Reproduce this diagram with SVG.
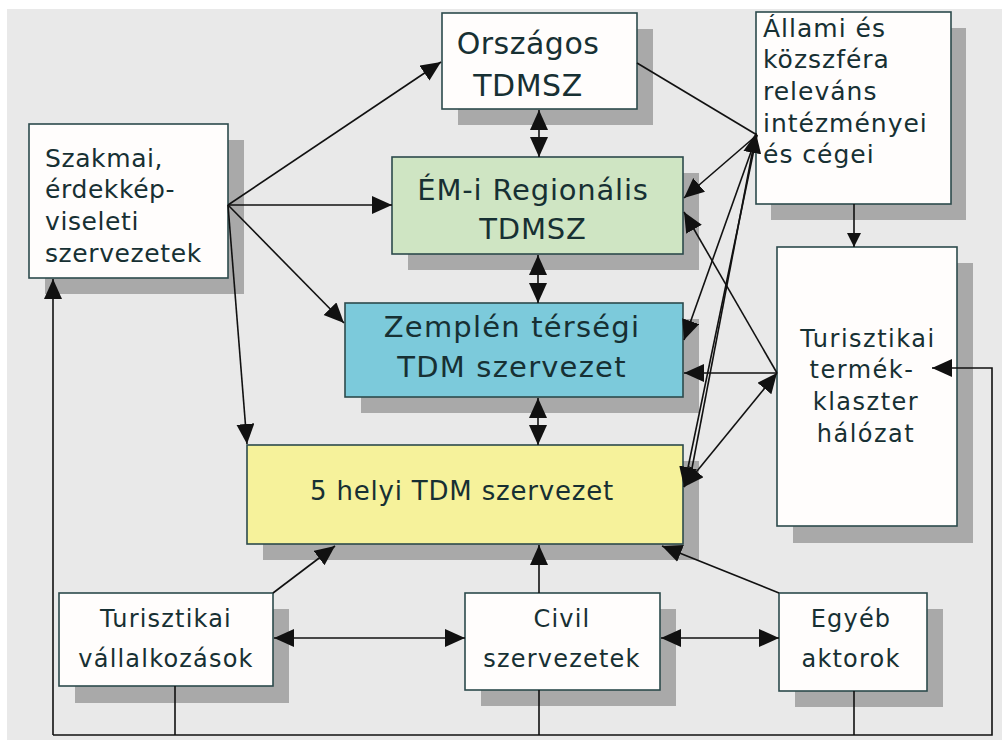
<svg xmlns="http://www.w3.org/2000/svg" width="1002" height="740" viewBox="0 0 1002 740">
<defs>
<style>
.bx{stroke:#2c4a4c;stroke-width:1.6}
.w{fill:#fffdfc}
.sh{fill:#a9a9a9}
.t{font-family:"DejaVu Sans",Verdana,sans-serif;fill:#173033}
.c{text-anchor:middle}
.ln{stroke:#111;stroke-width:1.6;fill:none}
.a{marker-end:url(#ah)}
.b{marker-start:url(#ah);marker-end:url(#ah)}
</style>
<marker id="ah" markerUnits="userSpaceOnUse" markerWidth="22" markerHeight="20" refX="20" refY="9" orient="auto-start-reverse">
<path d="M0,0 L20,9 L0,18 z" fill="#111"/>
</marker>
<marker id="as" markerUnits="userSpaceOnUse" markerWidth="16" markerHeight="14" refX="14" refY="7" orient="auto">
<path d="M0,0 L14,7 L0,14 z" fill="#111"/>
</marker>
</defs>
<rect x="7" y="9" width="995" height="731" fill="#e9e9e9"/>

<g id="orszagos">
<rect class="sh" x="458" y="29" width="195" height="96"/>
<rect class="bx w" x="442" y="13" width="195" height="96"/>
<text class="t c" font-size="30" letter-spacing="0.5" x="528" y="54">Országos</text>
<text class="t c" font-size="30" letter-spacing="0.5" x="528" y="96">TDMSZ</text>
</g>

<g id="szakmai">
<rect class="sh" x="45" y="140" width="199" height="154"/>
<rect class="bx w" x="29" y="124" width="199" height="154"/>
<text class="t" font-size="25" letter-spacing="0.6" x="45" y="167">Szakmai,</text>
<text class="t" font-size="25" letter-spacing="0.6" x="45" y="198">érdekkép-</text>
<text class="t" font-size="25" letter-spacing="0.6" x="45" y="230">viseleti</text>
<text class="t" font-size="25" letter-spacing="0.6" x="45" y="262">szervezetek</text>
</g>

<g id="allami">
<rect class="sh" x="771" y="28" width="195" height="192"/>
<rect class="bx w" x="756" y="12" width="195" height="192"/>
<text class="t" font-size="25" letter-spacing="1" x="763" y="37">Állami és</text>
<text class="t" font-size="25" letter-spacing="1" x="763" y="68">közszféra</text>
<text class="t" font-size="25" letter-spacing="1" x="763" y="100">releváns</text>
<text class="t" font-size="25" letter-spacing="1" x="763" y="132">intézményei</text>
<text class="t" font-size="25" letter-spacing="1" x="763" y="163">és cégei</text>
</g>

<g id="em">
<rect class="sh" x="408" y="173" width="291" height="97"/>
<rect class="bx" fill="#cfe5c3" x="392" y="157" width="291" height="97"/>
<text class="t c" font-size="29" letter-spacing="0.8" x="533" y="200">ÉM-i Regionális</text>
<text class="t c" font-size="29" letter-spacing="0.8" x="533" y="239">TDMSZ</text>
</g>

<g id="zemplen">
<rect class="sh" x="361" y="319" width="338" height="94"/>
<rect class="bx" fill="#7ccadb" x="345" y="303" width="338" height="94"/>
<text class="t c" font-size="29" letter-spacing="1.2" x="512" y="337">Zemplén térségi</text>
<text class="t c" font-size="29" letter-spacing="1.2" x="512" y="377">TDM szervezet</text>
</g>

<g id="helyi">
<rect class="sh" x="263" y="461" width="436" height="99"/>
<rect class="bx" fill="#f6f29b" x="247" y="445" width="436" height="99"/>
<text class="t c" font-size="26" letter-spacing="0.8" x="462" y="500">5 helyi TDM szervezet</text>
</g>

<g id="klaszter">
<rect class="sh" x="793" y="263" width="180" height="280"/>
<rect class="bx w" x="777" y="247" width="180" height="279"/>
<text class="t c" font-size="24" letter-spacing="1.5" x="868" y="347">Turisztikai</text>
<text class="t c" font-size="24" letter-spacing="1.5" x="862" y="378">termék-</text>
<text class="t c" font-size="24" letter-spacing="1.5" x="866" y="410">klaszter</text>
<text class="t c" font-size="24" letter-spacing="1.5" x="866" y="442">hálózat</text>
</g>

<g id="vallalkozasok">
<rect class="sh" x="75" y="609" width="214" height="94"/>
<rect class="bx w" x="59" y="593" width="214" height="93"/>
<text class="t c" font-size="24" letter-spacing="1.2" x="166" y="627">Turisztikai</text>
<text class="t c" font-size="24" letter-spacing="1.2" x="166" y="667">vállalkozások</text>
</g>

<g id="civil">
<rect class="sh" x="481" y="609" width="195" height="97"/>
<rect class="bx w" x="465" y="593" width="195" height="97"/>
<text class="t c" font-size="24" letter-spacing="1.2" x="562" y="627">Civil</text>
<text class="t c" font-size="24" letter-spacing="1.2" x="562" y="667">szervezetek</text>
</g>

<g id="egyeb">
<rect class="sh" x="795" y="609" width="148" height="98"/>
<rect class="bx w" x="779" y="593" width="148" height="98"/>
<text class="t c" font-size="24" letter-spacing="1.2" x="851" y="627">Egyéb</text>
<text class="t c" font-size="24" letter-spacing="1.2" x="851" y="667">aktorok</text>
</g>

<g id="connectors">
<line class="ln a" x1="228" y1="205" x2="441" y2="62"/>
<line class="ln a" x1="228" y1="205" x2="392" y2="205"/>
<line class="ln a" x1="228" y1="205" x2="344" y2="323"/>
<line class="ln a" x1="228" y1="205" x2="247" y2="444"/>
<line class="ln b" x1="539" y1="110" x2="539" y2="157"/>
<line class="ln b" x1="538" y1="255" x2="538" y2="303"/>
<line class="ln b" x1="538" y1="398" x2="538" y2="445"/>
<line class="ln" x1="637" y1="63" x2="757" y2="135"/>
<line class="ln a" x1="757" y1="135" x2="684" y2="198"/>
<line class="ln a" x1="757" y1="135" x2="684" y2="340"/>
<line class="ln a" x1="757" y1="135" x2="684" y2="487"/>
<line class="ln a" x1="689" y1="484" x2="756" y2="133"/>
<line class="ln a" x1="777" y1="373" x2="684" y2="212"/>
<line class="ln a" x1="777" y1="373" x2="684" y2="373"/>
<line class="ln b" x1="777" y1="373" x2="684" y2="487"/>
<line class="ln" style="marker-end:url(#as)" x1="854" y1="204" x2="854" y2="247"/>
<line class="ln a" x1="53" y1="735" x2="53" y2="279"/>
<path class="ln a" d="M53,735 L992,735 L992,368 L932,368"/>
<line class="ln" x1="175" y1="686" x2="175" y2="735"/>
<line class="ln" x1="539" y1="690" x2="539" y2="735"/>
<line class="ln" x1="854" y1="691" x2="854" y2="735"/>
<line class="ln a" x1="273" y1="593" x2="335" y2="546"/>
<line class="ln a" x1="539" y1="593" x2="539" y2="545"/>
<line class="ln a" x1="779" y1="593" x2="662" y2="546"/>
<line class="ln b" x1="274" y1="638" x2="465" y2="638"/>
<line class="ln b" x1="661" y1="638" x2="779" y2="638"/>
</g>
</svg>
